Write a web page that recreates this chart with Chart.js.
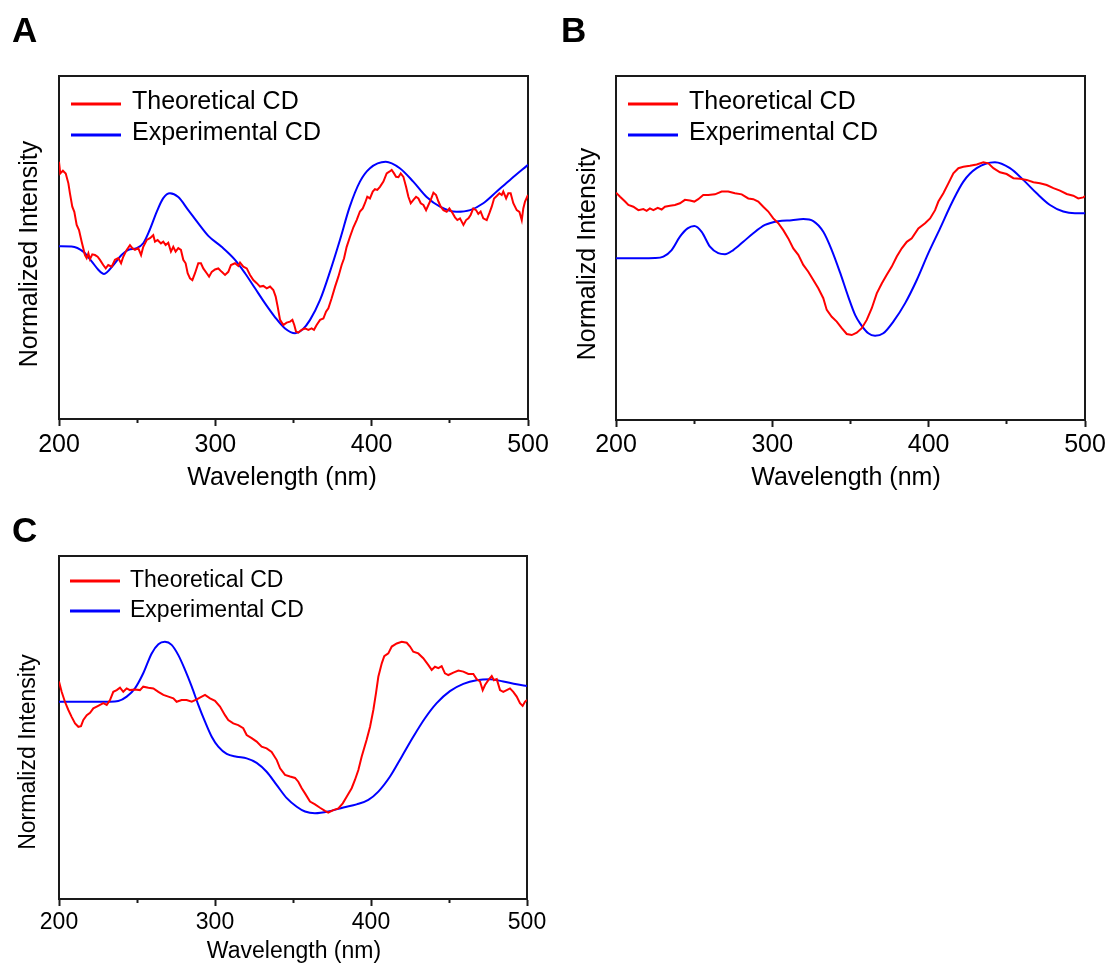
<!DOCTYPE html>
<html>
<head>
<meta charset="utf-8">
<title>CD spectra</title>
<script src="https://cdn.jsdelivr.net/npm/chart.js@4.4.1/dist/chart.umd.min.js"></script>
<style>
  html, body { margin: 0; padding: 0; background: #fff; }
  #page { position: relative; width: 1110px; height: 965px; }
  canvas { position: absolute; }
  #cdA { left: 0; top: 0; }
  #cdB { left: 555px; top: 0; }
  #cdC { left: 0; top: 500px; }
</style>
</head>
<body>
<div id="page">
  <canvas id="cdA" width="555" height="500"></canvas>
  <canvas id="cdB" width="555" height="500"></canvas>
  <canvas id="cdC" width="555" height="465"></canvas>
</div>
<script>
const FONT = "'Liberation Sans', Arial, sans-serif";
const RED = "#ff0000";
const BLUE = "#0000ff";
const AXIS = "#1a1a1a";

const xMajor = [200, 300, 400, 500];

/* panel A */
const aTheoNm = [200.0,200.8,202.5,204.3,206.0,207.0,208.5,209.8,211.3,212.8,214.5,216.6,217.7,218.8,219.8,221.3,223.0,224.7,226.2,228.3,229.9,231.5,233.7,235.8,237.9,239.7,241.1,243.3,245.4,246.9,248.6,250.7,252.5,253.9,256.1,258.2,260.3,261.4,263.1,265.2,266.7,268.2,269.9,271.6,273.1,274.6,276.3,278.0,279.5,281.0,282.3,283.8,285.3,287.0,289.1,290.8,292.3,294.5,296.0,297.7,299.8,301.9,304.1,306.2,308.3,310.0,312.6,314.7,315.8,317.9,320.1,322.2,324.3,326.5,328.6,330.7,332.9,335.0,337.1,338.6,339.9,341.4,343.5,345.6,347.8,349.3,350.5,351.6,353.1,355.2,357.4,359.5,361.6,363.1,364.8,367.0,369.1,370.8,372.3,374.4,376.6,378.7,380.8,382.3,384.0,386.2,388.3,390.4,392.5,394.3,395.7,397.2,398.9,400.7,402.1,403.6,405.3,407.5,409.6,411.3,412.8,414.3,415.6,417.1,418.6,420.3,422.0,423.5,425.0,426.7,428.4,429.9,431.4,433.1,434.8,436.3,437.8,439.5,441.2,442.7,444.2,445.9,448.0,449.7,451.8,453.3,454.8,456.5,458.7,460.4,461.9,463.3,465.0,466.8,468.2,469.7,471.4,473.6,475.3,476.8,478.3,480.0,481.7,483.2,484.2,486.0,487.4,488.9,490.6,492.8,494.5,496.0,497.0,498.1,500.0];
const aTheoCd = [75.0,71.6,72.4,71.6,68.7,65.8,61.9,60.4,56.6,55.1,51.7,47.8,46.9,48.3,46.6,48.0,47.8,47.3,46.4,44.9,43.9,44.9,44.4,46.4,46.9,45.4,47.3,49.3,50.7,49.8,49.3,49.8,47.8,50.2,52.2,52.7,53.6,51.7,52.2,51.2,51.7,50.7,51.4,48.8,50.2,48.8,49.8,49.3,46.4,45.4,42.5,41.0,40.5,42.5,45.4,45.4,43.9,42.5,41.5,42.9,43.6,43.9,42.9,42.0,42.9,44.9,45.4,44.6,45.6,44.4,43.9,42.0,40.5,39.6,38.6,38.8,38.1,38.6,37.6,35.7,32.7,28.9,27.4,28.1,28.4,28.9,27.4,25.5,25.2,26.0,26.4,26.0,26.4,26.0,27.4,28.9,29.3,31.3,32.3,35.2,38.6,41.5,44.9,46.8,50.2,53.2,55.9,58.0,60.5,61.4,62.9,64.8,64.3,66.3,67.0,66.8,67.7,69.2,71.6,72.1,72.6,71.6,70.6,70.5,71.6,70.6,67.7,64.8,62.9,63.9,64.8,64.3,62.9,62.4,60.9,62.4,63.9,66.0,65.3,63.4,61.9,60.9,60.4,61.4,60.0,58.8,58.0,58.5,56.6,58.0,58.5,59.5,61.4,60.9,59.8,60.5,58.5,58.0,60.0,61.9,64.3,65.0,65.8,65.3,66.3,64.3,65.8,65.8,62.9,60.9,60.4,58.0,61.4,63.4,65.3];
const aExpNm = [200,208,215.5,221,225,228.8,234.8,240,244.4,249.7,254,258,262.5,266.7,271,276.3,282.7,289,295.5,304,312.6,319,325.4,331.8,338,344.6,351,356,360.6,367,373.3,379.7,386,392.5,398.9,409,418,426.6,435,443.7,454.4,463,471.4,480,488.5,500];
const aExpCd = [50.4,50.3,48.8,45.9,43.6,42.3,44.9,47.8,49.3,49.8,51.3,55.1,60.4,64.4,65.8,64.7,60.9,57.1,53.4,50.2,46.4,42.5,38.1,33.7,29.8,26.4,25.0,26.2,28.9,34.7,42.9,52.2,61.9,69.2,73.1,75.0,73.1,69.2,64.8,61.9,60.4,60.9,62.9,66.3,69.7,74.1];

/* panel B */
const bTheoNm = [200,202.6,205.8,207.9,211.1,214.3,217.5,219.6,221.7,223.9,226.7,229.2,231.3,234.5,237.7,240.9,244.1,247.3,250.1,252.6,255.8,259,263.3,267.6,271.8,276.1,280.4,284.6,287.8,291,294.2,297.4,300.6,303.8,307,310.2,313.4,316.6,319.8,323,326.2,329.4,332.6,334.8,338,341.2,344.4,347.6,350.8,354,357.2,360.4,363.6,366.8,370,373.2,376.4,379.6,382.8,386,389.2,393.4,397.7,400.9,404.1,406.2,409.4,412.6,415.8,419,422.2,426.4,430.7,435,438.2,441.4,445.6,449.9,454.2,458.4,462.7,467,471.2,475.5,479.8,484,488.3,492.5,495.7,498.9,500];
const bTheoCd = [66.1,64.9,63.5,62.5,62.0,61.0,61.3,60.8,61.5,61.0,61.7,61.2,62.0,62.3,62.5,63.0,64.0,63.8,63.5,64.2,65.4,65.4,65.6,66.4,66.4,65.9,65.6,64.4,64.2,63.5,62.0,60.6,58.6,57.2,55.2,52.8,49.9,48.0,45.1,43.1,40.7,38.3,35.4,32.0,30.0,28.6,26.7,25.0,24.7,25.4,26.7,29.1,32.5,36.8,39.7,42.2,44.6,47.5,49.9,51.8,52.8,55.7,57.2,58.6,61.0,63.5,65.9,68.8,71.7,73.2,73.6,73.9,74.3,74.9,74.6,73.2,72.0,71.5,70.3,70.1,69.8,69.1,68.8,68.3,67.4,66.7,65.7,65.2,64.4,64.7,65.1];
const bExpNm = [200,225,230.3,235.6,240.9,245.8,250.1,254.8,260.1,265.4,269.7,275,281.4,287.8,295.3,303.8,312.4,319.8,326.2,332.6,338,343.3,348.6,353,356.1,361.4,365.7,371,377.4,384.9,392.4,399.8,407.3,414.7,422.2,430.7,442.4,452,460.5,469.1,477.6,486.1,493.6,500];
const bExpCd = [47.0,47.1,47.5,49.4,53.3,55.7,56.4,54.7,50.4,48.5,48.2,49.4,51.8,54.3,56.7,57.8,58.1,58.4,57.8,54.7,49.4,42.9,35.8,30.5,28.1,25.2,24.5,25.2,28.6,33.9,40.7,48.5,55.7,63.0,69.3,73.2,74.9,73.2,69.8,65.9,62.5,60.6,60.1,60.1];

/* panel C */
const cTheoNm = [200,201.7,203.8,206,208.1,210.3,212.4,214.1,215.6,217.8,219.9,222,224.2,226.3,228.4,230.6,232.7,234.8,237,239.1,241.2,243.4,245.5,248.7,251.9,254,257.3,260.5,263.7,266.9,270.1,273.3,275.4,278.6,281.8,285.1,288.3,291.5,293.6,296.8,300,303.2,306.4,308.5,311.7,314.9,318.1,320.3,323.5,326.7,329.9,333.1,336.3,339.6,341.7,344.9,348.1,351.3,353.4,355.6,357.7,360.9,364.1,367.3,370.5,372.6,375.8,379.1,381.9,384.4,387.6,389.7,391.9,394,397.2,399.4,401.5,403.2,404.7,406.9,408.5,411.1,413.3,416.5,419.7,422.9,425,427.1,430.3,433.5,436.8,438.9,441,443.2,445.3,447.4,449.6,452.8,456,459.2,462.4,465.6,467.7,469.9,471.6,473.1,475.2,477.4,478.8,480.6,482.7,484.8,487,489.1,491.2,493.4,495.5,497.2,498.7,500];
const cTheoCd = [63.4,60.4,57.5,55.1,53.1,51.2,50.2,50.4,52.2,53.6,54.3,55.6,56.1,56.6,57.1,56.6,58.0,60.4,60.9,61.6,60.4,61.4,60.9,61.1,60.9,61.9,61.6,61.4,60.4,59.5,59.0,58.5,57.5,58.0,58.0,57.5,58.2,59.0,59.5,58.5,57.8,56.1,53.6,52.2,51.2,50.7,49.8,47.8,46.9,45.9,44.4,43.9,42.9,40.5,38.1,36.2,35.7,35.3,34.2,32.3,30.8,28.4,27.6,26.6,25.7,25.2,25.9,26.4,27.9,29.8,32.3,34.7,37.6,41.5,46.4,50.2,55.1,60.0,64.8,68.7,70.8,71.6,73.6,74.5,75.0,74.7,73.6,72.1,71.6,70.2,68.2,66.8,67.7,67.3,67.9,65.8,65.3,66.0,66.6,66.3,65.6,65.6,64.1,63.4,60.9,62.4,63.8,65.0,63.8,64.1,60.9,60.4,60.9,61.4,60.4,59.0,57.1,56.3,57.5,58.0];
const cExpNm = [200,232.7,238,243.4,248.7,254,259.4,263.7,267.9,272.2,276.5,280.8,285.1,289.3,293.6,297.9,302.1,307.5,313.9,320.3,326.7,333.1,339.6,346,352.4,357.7,364.1,372.6,382.3,390.8,398.3,404.7,412.2,419.7,427.1,434.6,442.1,450.6,459.2,467.7,476.3,484.8,493.4,500];
const cExpCd = [57.5,57.5,57.7,59.0,61.4,65.8,71.6,74.3,75.0,74.1,71.1,66.8,61.9,56.6,51.7,47.3,44.4,42.3,41.5,41.0,39.7,37.1,33.2,29.4,26.9,25.5,25.0,25.5,26.7,27.6,28.9,31.3,35.7,41.5,47.3,52.7,57.1,60.6,62.7,63.8,64.1,63.4,62.6,62.1];

function pts(nm, cd) {
  const n = Math.min(nm.length, cd.length);
  const out = [];
  for (let i = 0; i < n; i++) out.push({ x: nm[i], y: cd[i] });
  return out;
}

// letter, legend and axis titles drawn on top of each panel
const panelText = {
  id: "panelText",
  afterDraw(chart, args, o) {
    const c = chart.ctx;
    c.save();
    c.fillStyle = "#000";
    c.textAlign = "left";
    c.textBaseline = "alphabetic";
    c.font = "bold 35px " + FONT;
    c.fillText(o.letter, o.letterX, o.letterY);

    c.font = o.size + "px " + FONT;
    c.textBaseline = "middle";
    chart.data.datasets.forEach((ds, i) => {
      const y = o.legendY[i];
      c.fillStyle = ds.borderColor;
      c.fillRect(o.legendX, y - 1.5, 50, 3);
      c.fillStyle = "#000";
      c.fillText(ds.label, o.textX, y + o.textShift);
    });

    c.textAlign = "center";
    c.fillText("Wavelength (nm)", o.xTitle[0], o.xTitle[1]);
    c.translate(o.yTitle[0], o.yTitle[1]);
    c.rotate(-Math.PI / 2);
    c.fillText(o.yText, 0, 0);
    c.restore();
  }
};

function frameAxis(axis, position, size, min, max) {
  return {
    type: "linear", axis, position, min, max,
    afterFit: s => { if (axis === "x") s.height = size; else s.width = size; },
    ticks: { display: false },
    grid: { display: false },
    border: { color: AXIS, width: 2 }
  };
}

function drawPanel(id, p) {
  return new Chart(document.getElementById(id), {
    type: "line",
    data: {
      datasets: [
        { label: "Theoretical CD", data: pts(p.theoNm, p.theoCd), borderColor: RED, borderWidth: 2, pointRadius: 0, tension: 0 },
        { label: "Experimental CD", data: pts(p.expNm, p.expCd), borderColor: BLUE, borderWidth: 2, pointRadius: 0, cubicInterpolationMode: "monotone" }
      ]
    },
    options: {
      responsive: false,
      animation: false,
      layout: { padding: 0 },
      plugins: {
        legend: { display: false },
        tooltip: { enabled: false },
        panelText: p.text
      },
      scales: {
        x: {
          type: "linear", position: "bottom", min: 200, max: 500,
          afterFit: s => { s.height = p.bottom; },
          ticks: {
            stepSize: 50, autoSkip: false, maxRotation: 0,
            padding: p.tickPad, color: "#000",
            font: { family: FONT, size: p.tickSize },
            callback: v => (xMajor.includes(v) ? v : "")
          },
          grid: {
            display: true, drawOnChartArea: false,
            tickLength: 7, tickWidth: 2, tickColor: AXIS,
            tickBorderDash: ctx => (ctx.tick && xMajor.includes(ctx.tick.value) ? [] : [3, 20])
          },
          border: { color: AXIS, width: 2 }
        },
        x2: frameAxis("x", "top", p.top, 200, 500),
        y: frameAxis("y", "left", p.left, 0, 100),
        y2: frameAxis("y", "right", p.right, 0, 100)
      }
    },
    plugins: [panelText]
  });
}

drawPanel("cdA", {
  theoNm: aTheoNm, theoCd: aTheoCd, expNm: aExpNm, expCd: aExpCd,
  left: 59, right: 27, top: 76, bottom: 81, tickPad: 4, tickSize: 25,
  text: { letter: "A", letterX: 12, letterY: 42, size: 25,
    legendX: 71, textX: 132, legendY: [104, 135], textShift: -2,
    xTitle: [282, 478], yTitle: [30, 254], yText: "Normalized Intensity" }
});

drawPanel("cdB", {
  theoNm: bTheoNm, theoCd: bTheoCd, expNm: bExpNm, expCd: bExpCd,
  left: 61, right: 25, top: 76, bottom: 80, tickPad: 3, tickSize: 25,
  text: { letter: "B", letterX: 6, letterY: 42, size: 25,
    legendX: 73, textX: 134, legendY: [104, 135], textShift: -2,
    xTitle: [291, 478], yTitle: [33, 254], yText: "Normalizd Intensity" }
});

drawPanel("cdC", {
  theoNm: cTheoNm, theoCd: cTheoCd, expNm: cExpNm, expCd: cExpCd,
  left: 59, right: 28, top: 56, bottom: 66, tickPad: 3, tickSize: 23,
  text: { letter: "C", letterX: 12, letterY: 42, size: 23,
    legendX: 70, textX: 130, legendY: [81, 111], textShift: 0,
    xTitle: [294, 452], yTitle: [29, 252], yText: "Normalizd Intensity" }
});
</script>
</body>
</html>
